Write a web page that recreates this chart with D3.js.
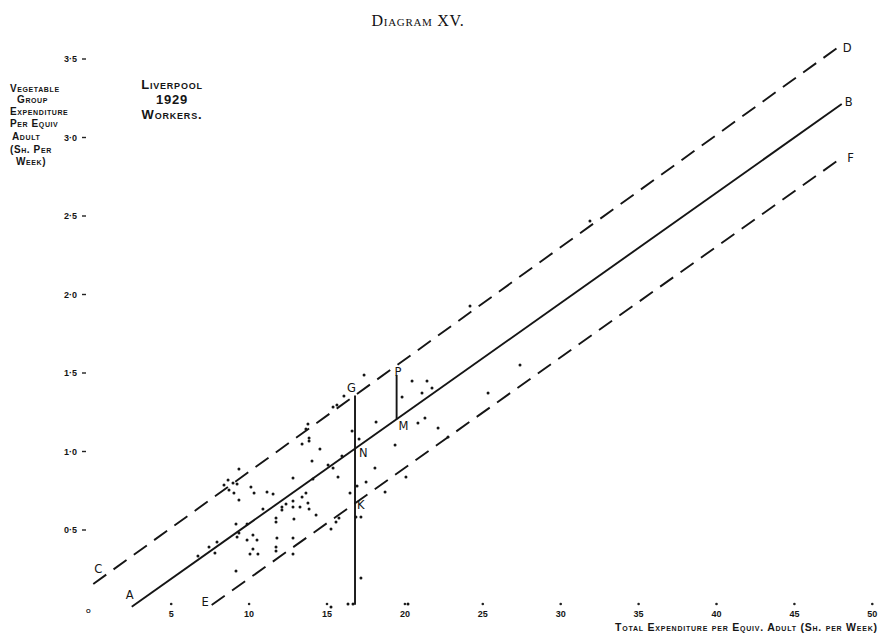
<!DOCTYPE html>
<meta charset="utf-8">
<style>

body {
  margin: 0;
  background: #fff;
}

svg {
  display: block;
}

.hand {
  font-family: "Liberation Sans", sans-serif;
  font-variant: small-caps;
  fill: #151515;
}

.title {
  font-family: "Liberation Serif", serif;
  font-variant: small-caps;
  font-size: 16px;
  letter-spacing: 0.7px;
  fill: #111;
}

.fit {
  fill: none;
  stroke: #151515;
  stroke-width: 1.9px;
}

.band {
  fill: none;
  stroke: #151515;
  stroke-width: 1.9px;
  stroke-dasharray: 16, 9;
}

.dot {
  fill: #151515;
}

.letter {
  font-family: "DejaVu Sans", sans-serif;
  font-size: 11.5px;
  fill: #151515;
}
</style>

<body>
<script src="https://d3js.org/d3.v7.min.js"></script>
<script>

  var width = 882,
      height = 637;

  // axis ticks
  var xTicks = [0, 5, 10, 15, 20, 25, 30, 35, 40, 45, 50];
  var xTickLabels = ["o", "5", "10", "15", "20", "25", "30", "35", "40", "45", "50"];
  var yTicks = [0.5, 1.0, 1.5, 2.0, 2.5, 3.0, 3.5];
  var yTickLabels = ["0·5", "1·0", "1·5", "2·0", "2·5", "3·0", "3·5"];

  // households: [total expenditure, vegetable expenditure] (sh. per week)
  var households = [
    [9.38, 0.885], [8.68, 0.815], [8.42, 0.783], [9.00, 0.796], [9.26, 0.790],
    [8.74, 0.752], [9.06, 0.732], [9.38, 0.688], [10.15, 0.771], [10.35, 0.732],
    [11.18, 0.739], [11.57, 0.726], [10.92, 0.631], [12.14, 0.643], [12.14, 0.624],
    [11.76, 0.573], [11.76, 0.548], [12.40, 0.662], [12.85, 0.682], [12.85, 0.643],
    [13.30, 0.643], [13.43, 0.707], [13.68, 0.732], [13.81, 0.669], [13.88, 0.631],
    [14.33, 0.592], [12.91, 0.567], [9.19, 0.535], [9.90, 0.535], [9.26, 0.452],
    [9.38, 0.478], [9.90, 0.433], [10.28, 0.465], [10.54, 0.433], [11.82, 0.446],
    [12.85, 0.446], [10.28, 0.376], [10.09, 0.344], [10.60, 0.344], [11.76, 0.389],
    [11.76, 0.363], [12.85, 0.344], [7.97, 0.420], [7.46, 0.389], [7.84, 0.350],
    [6.75, 0.331], [9.19, 0.236], [12.85, 0.828], [13.43, 1.045], [13.81, 1.172],
    [13.68, 1.140], [13.88, 1.083], [13.88, 1.064], [14.07, 0.936], [14.58, 1.013],
    [14.13, 0.822], [16.12, 1.350], [15.42, 1.280], [15.67, 1.293], [16.64, 1.127],
    [17.09, 1.076], [15.10, 0.911], [15.42, 0.892], [15.99, 0.968], [15.74, 0.834],
    [16.51, 0.732], [17.41, 1.484], [20.49, 1.446], [21.45, 1.446], [21.13, 1.369],
    [21.77, 1.401], [19.85, 1.344], [18.18, 1.185], [20.87, 1.178], [21.32, 1.210],
    [22.16, 1.146], [22.80, 1.089], [19.40, 1.038], [18.11, 0.892], [17.54, 0.803],
    [20.10, 0.834], [18.76, 0.739], [16.96, 0.777], [16.89, 0.580], [17.21, 0.580],
    [17.21, 0.191], [16.38, 0.025], [16.70, 0.025], [20.23, 0.025], [15.29, 0.503],
    [15.61, 0.548], [15.80, 0.573], [31.91, 2.465], [24.21, 1.924], [27.42, 1.548],
    [25.37, 1.369], [15.29, 0.006]
  ];

  // regression line AB and the limit lines CD, EF
  var lineAB = [[2.50, 0.008], [48.07, 3.21]];
  var lineCD = [[0.03, 0.153], [47.75, 3.565]];
  var lineEF = [[7.63, 0.019], [48.17, 2.875]];
  // verticals GK and PM
  var xGK = 16.83, yGKbottom = 0.02;
  var xPM = 19.5, yP = 1.484;

  var yLabelLines = ["Vegetable", "Group", "Expenditure", "Per Equiv", "Adult", "(Sh. Per", "Week)"];
  var placeLines = ["Liverpool", "1929", "Workers."];
  var xTitle = "Total Expenditure per Equiv. Adult (Sh. per Week)";

  var x = d3.scaleLinear().domain([0, 50]).range([92.8, 871.8]);
  var y = d3.scaleLinear().domain([0, 3.5]).range([608, 58.5]);

  var svg = d3.select("body").append("svg")
      .attr("width", width)
      .attr("height", height);

  svg.append("text")
    .attr("class", "title")
    .attr("x", 418)
    .attr("y", 26)
    .attr("text-anchor", "middle")
    .text("Diagram XV.");

  // y axis: label then a small dash
  var yAxis = svg.append("g")
    .attr("transform", "translate(86,0)")
    .call(d3.axisLeft(y).tickValues(yTicks).tickSize(4).tickPadding(5)
      .tickFormat(function(d, i){ return yTickLabels[i]; }));
  yAxis.select(".domain").remove();
  yAxis.selectAll("line").attr("stroke", "#222").attr("stroke-width", 1.4);
  yAxis.selectAll("text")
    .attr("class", "hand")
    .style("font-size", "9px")
    .style("font-weight", "bold")
    .attr("dy", "0.35em");

  // x axis: dot over each label
  var xAxis = svg.append("g")
    .attr("transform", "translate(0,604)")
    .call(d3.axisBottom(x).tickValues(xTicks).tickSize(0).tickPadding(7)
      .tickFormat(function(d, i){ return xTickLabels[i]; }));
  xAxis.select(".domain").remove();
  xAxis.selectAll(".tick")
    .filter(function(d){ return d > 0; })
    .append("circle")
    .attr("r", 1.3)
    .attr("fill", "#222");
  xAxis.selectAll("text")
    .attr("class", "hand")
    .style("font-size", "9px")
    .style("font-weight", "bold");
  xAxis.selectAll(".tick")
    .filter(function(d){ return d === 0; })
    .select("text")
    .attr("dx", -5)
    .attr("dy", "0.2em");

  var line = d3.line()
    .x(function(d){ return x(d[0]); })
    .y(function(d){ return y(d[1]); });

  function yOn(l, xv) {
    var t = (xv - l[0][0]) / (l[1][0] - l[0][0]);
    return l[0][1] + t * (l[1][1] - l[0][1]);
  }

  svg.append("path").datum(lineCD).attr("class", "band").attr("d", line);
  svg.append("path").datum(lineEF).attr("class", "band").attr("d", line);
  svg.append("path").datum(lineAB).attr("class", "fit").attr("d", line);

  var yG = yOn(lineCD, xGK),
      yN = yOn(lineAB, xGK),
      yK = yOn(lineEF, xGK),
      yM = yOn(lineAB, xPM);

  svg.append("path").datum([[xGK, yG], [xGK, yGKbottom]]).attr("class", "fit").attr("d", line);
  svg.append("path").datum([[xPM, yP], [xPM, yM]]).attr("class", "fit").attr("d", line);

  svg.selectAll(".dot")
    .data(households)
    .enter().append("circle")
    .attr("class", "dot")
    .attr("cx", function(d){ return x(d[0]); })
    .attr("cy", function(d){ return y(d[1]); })
    .attr("r", 1.5);

  // letters on the lines
  var letters = [
    {t: "C", px: x(lineCD[0][0]) + 1, py: y(lineCD[0][1]) - 11, a: "start"},
    {t: "A", px: x(lineAB[0][0]) - 6, py: y(lineAB[0][1]) - 8, a: "start"},
    {t: "E", px: x(lineEF[0][0]) - 3, py: y(lineEF[0][1]) + 1, a: "end"},
    {t: "D", px: x(lineCD[1][0]) + 6, py: y(lineCD[1][1]) + 4, a: "start"},
    {t: "B", px: x(lineAB[1][0]) + 3, py: y(lineAB[1][1]) + 2, a: "start"},
    {t: "F", px: x(lineEF[1][0]) + 4, py: y(lineEF[1][1]) + 5, a: "start"},
    {t: "G", px: x(xGK) + 1, py: y(yG) - 3, a: "end"},
    {t: "N", px: x(xGK) + 4, py: y(yN) + 8, a: "start"},
    {t: "K", px: x(xGK) + 2, py: y(yK) + 6, a: "start"},
    {t: "P", px: x(xPM) - 2, py: y(yP) + 1, a: "start"},
    {t: "M", px: x(xPM) + 2, py: y(yM) + 11, a: "start"}
  ];

  svg.selectAll(".letter")
    .data(letters)
    .enter().append("text")
    .attr("class", "letter")
    .attr("x", function(d){ return d.px; })
    .attr("y", function(d){ return d.py; })
    .attr("text-anchor", function(d){ return d.a; })
    .text(function(d){ return d.t; });

  // axis captions
  var yLabelX = [10, 17, 10, 10, 12, 10, 16];
  var yLabelY = [92, 103, 115, 127, 140, 153, 165];
  svg.selectAll(".ylab")
    .data(yLabelLines)
    .enter().append("text")
    .attr("class", "hand ylab")
    .attr("x", function(d, i){ return yLabelX[i]; })
    .attr("y", function(d, i){ return yLabelY[i]; })
    .style("font-size", "10px")
    .style("font-weight", "bold")
    .style("letter-spacing", "0.6px")
    .text(function(d){ return d; });

  svg.selectAll(".place")
    .data(placeLines)
    .enter().append("text")
    .attr("class", "hand place")
    .attr("x", 172)
    .attr("y", function(d, i){ return 89 + i * 15; })
    .attr("text-anchor", "middle")
    .style("font-size", "13px")
    .style("font-weight", "bold")
    .style("letter-spacing", "0.8px")
    .text(function(d){ return d; });

  svg.append("text")
    .attr("class", "hand")
    .attr("x", 615)
    .attr("y", 631)
    .attr("textLength", 262)
    .attr("lengthAdjust", "spacing")
    .style("font-size", "10.5px")
    .style("font-weight", "bold")
    .text(xTitle);

</script>
</body>
